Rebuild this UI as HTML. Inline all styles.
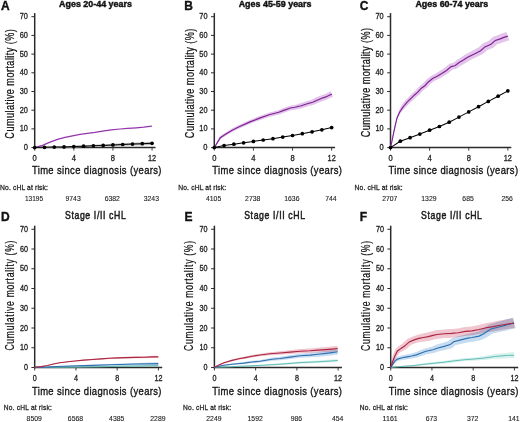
<!DOCTYPE html>
<html><head><meta charset="utf-8"><title>Cumulative mortality</title>
<style>
html,body{margin:0;padding:0;background:#fff;width:520px;height:422px;overflow:hidden}
svg{display:block;will-change:transform}
text{font-family:"Liberation Sans", sans-serif}
</style></head><body>
<svg width="520" height="422" viewBox="0 0 520 422">
<text x="1.0" y="10.1" font-size="12" font-weight="bold" text-anchor="start" fill="#111" stroke="#111" stroke-width="0.35" >A</text>
<text x="184.3" y="10.1" font-size="12" font-weight="bold" text-anchor="start" fill="#111" stroke="#111" stroke-width="0.35" >B</text>
<text x="359.8" y="10.1" font-size="12" font-weight="bold" text-anchor="start" fill="#111" stroke="#111" stroke-width="0.35" >C</text>
<text x="1.0" y="221.0" font-size="12" font-weight="bold" text-anchor="start" fill="#111" stroke="#111" stroke-width="0.35" >D</text>
<text x="184.4" y="221.0" font-size="12" font-weight="bold" text-anchor="start" fill="#111" stroke="#111" stroke-width="0.35" >E</text>
<text x="359.8" y="221.0" font-size="12" font-weight="bold" text-anchor="start" fill="#111" stroke="#111" stroke-width="0.35" >F</text>
<text x="59.1" y="7.4" font-size="8.6" font-weight="bold" text-anchor="start" fill="#111" textLength="72.8" lengthAdjust="spacingAndGlyphs" stroke="#111" stroke-width="0.4" >Ages 20-44 years</text>
<text x="238.7" y="7.4" font-size="8.6" font-weight="bold" text-anchor="start" fill="#111" textLength="72.8" lengthAdjust="spacingAndGlyphs" stroke="#111" stroke-width="0.4" >Ages 45-59 years</text>
<text x="415.4" y="7.4" font-size="8.6" font-weight="bold" text-anchor="start" fill="#111" textLength="72.8" lengthAdjust="spacingAndGlyphs" stroke="#111" stroke-width="0.4" >Ages 60-74 years</text>
<text x="0" y="0" font-size="10.9" font-weight="normal" fill="#1a1a1a" textLength="76.00" lengthAdjust="spacing" stroke="#1a1a1a" stroke-width="0.5" transform="translate(65.0,218.5) scale(0.8,1)">Stage I/II cHL</text>
<text x="0" y="0" font-size="10.9" font-weight="normal" fill="#1a1a1a" textLength="76.00" lengthAdjust="spacing" stroke="#1a1a1a" stroke-width="0.5" transform="translate(244.2,218.5) scale(0.8,1)">Stage I/II cHL</text>
<text x="0" y="0" font-size="10.9" font-weight="normal" fill="#1a1a1a" textLength="76.00" lengthAdjust="spacing" stroke="#1a1a1a" stroke-width="0.5" transform="translate(421.1,218.5) scale(0.8,1)">Stage I/II cHL</text>
<line x1="34.7" y1="13.1" x2="34.7" y2="148.4" stroke="#2b2b2b" stroke-width="1.5"/>
<line x1="33.900000000000006" y1="147.6" x2="155.5" y2="147.6" stroke="#2b2b2b" stroke-width="1.5"/>
<line x1="31.400000000000002" y1="147.60" x2="34.7" y2="147.60" stroke="#2b2b2b" stroke-width="1.0"/>
<text x="27.90" y="150.10" font-size="8.6" font-weight="normal" text-anchor="end" fill="#222" textLength="4.2" lengthAdjust="spacingAndGlyphs" stroke="#222" stroke-width="0.3" >0</text>
<line x1="31.400000000000002" y1="128.90" x2="34.7" y2="128.90" stroke="#2b2b2b" stroke-width="1.0"/>
<text x="27.90" y="131.40" font-size="8.6" font-weight="normal" text-anchor="end" fill="#222" textLength="8.2" lengthAdjust="spacingAndGlyphs" stroke="#222" stroke-width="0.3" >10</text>
<line x1="31.400000000000002" y1="110.20" x2="34.7" y2="110.20" stroke="#2b2b2b" stroke-width="1.0"/>
<text x="27.90" y="112.70" font-size="8.6" font-weight="normal" text-anchor="end" fill="#222" textLength="8.2" lengthAdjust="spacingAndGlyphs" stroke="#222" stroke-width="0.3" >20</text>
<line x1="31.400000000000002" y1="91.50" x2="34.7" y2="91.50" stroke="#2b2b2b" stroke-width="1.0"/>
<text x="27.90" y="94.00" font-size="8.6" font-weight="normal" text-anchor="end" fill="#222" textLength="8.2" lengthAdjust="spacingAndGlyphs" stroke="#222" stroke-width="0.3" >30</text>
<line x1="31.400000000000002" y1="72.80" x2="34.7" y2="72.80" stroke="#2b2b2b" stroke-width="1.0"/>
<text x="27.90" y="75.30" font-size="8.6" font-weight="normal" text-anchor="end" fill="#222" textLength="8.2" lengthAdjust="spacingAndGlyphs" stroke="#222" stroke-width="0.3" >40</text>
<line x1="31.400000000000002" y1="54.10" x2="34.7" y2="54.10" stroke="#2b2b2b" stroke-width="1.0"/>
<text x="27.90" y="56.60" font-size="8.6" font-weight="normal" text-anchor="end" fill="#222" textLength="8.2" lengthAdjust="spacingAndGlyphs" stroke="#222" stroke-width="0.3" >50</text>
<line x1="31.400000000000002" y1="35.40" x2="34.7" y2="35.40" stroke="#2b2b2b" stroke-width="1.0"/>
<text x="27.90" y="37.90" font-size="8.6" font-weight="normal" text-anchor="end" fill="#222" textLength="8.2" lengthAdjust="spacingAndGlyphs" stroke="#222" stroke-width="0.3" >60</text>
<line x1="31.400000000000002" y1="16.70" x2="34.7" y2="16.70" stroke="#2b2b2b" stroke-width="1.0"/>
<text x="27.90" y="19.20" font-size="8.6" font-weight="normal" text-anchor="end" fill="#222" textLength="8.2" lengthAdjust="spacingAndGlyphs" stroke="#222" stroke-width="0.3" >70</text>
<line x1="34.70" y1="147.6" x2="34.70" y2="150.6" stroke="#2b2b2b" stroke-width="0.9"/>
<text x="34.70" y="160.80" font-size="8.6" font-weight="normal" text-anchor="middle" fill="#222" textLength="4.2" lengthAdjust="spacingAndGlyphs" stroke="#222" stroke-width="0.3" >0</text>
<line x1="73.82" y1="147.6" x2="73.82" y2="150.6" stroke="#2b2b2b" stroke-width="0.9"/>
<text x="73.82" y="160.80" font-size="8.6" font-weight="normal" text-anchor="middle" fill="#222" textLength="4.2" lengthAdjust="spacingAndGlyphs" stroke="#222" stroke-width="0.3" >4</text>
<line x1="112.94" y1="147.6" x2="112.94" y2="150.6" stroke="#2b2b2b" stroke-width="0.9"/>
<text x="112.94" y="160.80" font-size="8.6" font-weight="normal" text-anchor="middle" fill="#222" textLength="4.2" lengthAdjust="spacingAndGlyphs" stroke="#222" stroke-width="0.3" >8</text>
<line x1="152.06" y1="147.6" x2="152.06" y2="150.6" stroke="#2b2b2b" stroke-width="0.9"/>
<text x="152.06" y="160.80" font-size="8.6" font-weight="normal" text-anchor="middle" fill="#222" textLength="8.2" lengthAdjust="spacingAndGlyphs" stroke="#222" stroke-width="0.3" >12</text>
<line x1="214.3" y1="13.1" x2="214.3" y2="148.4" stroke="#2b2b2b" stroke-width="1.5"/>
<line x1="213.5" y1="147.6" x2="335.1" y2="147.6" stroke="#2b2b2b" stroke-width="1.5"/>
<line x1="211.0" y1="147.60" x2="214.3" y2="147.60" stroke="#2b2b2b" stroke-width="1.0"/>
<text x="207.50" y="150.10" font-size="8.6" font-weight="normal" text-anchor="end" fill="#222" textLength="4.2" lengthAdjust="spacingAndGlyphs" stroke="#222" stroke-width="0.3" >0</text>
<line x1="211.0" y1="128.90" x2="214.3" y2="128.90" stroke="#2b2b2b" stroke-width="1.0"/>
<text x="207.50" y="131.40" font-size="8.6" font-weight="normal" text-anchor="end" fill="#222" textLength="8.2" lengthAdjust="spacingAndGlyphs" stroke="#222" stroke-width="0.3" >10</text>
<line x1="211.0" y1="110.20" x2="214.3" y2="110.20" stroke="#2b2b2b" stroke-width="1.0"/>
<text x="207.50" y="112.70" font-size="8.6" font-weight="normal" text-anchor="end" fill="#222" textLength="8.2" lengthAdjust="spacingAndGlyphs" stroke="#222" stroke-width="0.3" >20</text>
<line x1="211.0" y1="91.50" x2="214.3" y2="91.50" stroke="#2b2b2b" stroke-width="1.0"/>
<text x="207.50" y="94.00" font-size="8.6" font-weight="normal" text-anchor="end" fill="#222" textLength="8.2" lengthAdjust="spacingAndGlyphs" stroke="#222" stroke-width="0.3" >30</text>
<line x1="211.0" y1="72.80" x2="214.3" y2="72.80" stroke="#2b2b2b" stroke-width="1.0"/>
<text x="207.50" y="75.30" font-size="8.6" font-weight="normal" text-anchor="end" fill="#222" textLength="8.2" lengthAdjust="spacingAndGlyphs" stroke="#222" stroke-width="0.3" >40</text>
<line x1="211.0" y1="54.10" x2="214.3" y2="54.10" stroke="#2b2b2b" stroke-width="1.0"/>
<text x="207.50" y="56.60" font-size="8.6" font-weight="normal" text-anchor="end" fill="#222" textLength="8.2" lengthAdjust="spacingAndGlyphs" stroke="#222" stroke-width="0.3" >50</text>
<line x1="211.0" y1="35.40" x2="214.3" y2="35.40" stroke="#2b2b2b" stroke-width="1.0"/>
<text x="207.50" y="37.90" font-size="8.6" font-weight="normal" text-anchor="end" fill="#222" textLength="8.2" lengthAdjust="spacingAndGlyphs" stroke="#222" stroke-width="0.3" >60</text>
<line x1="211.0" y1="16.70" x2="214.3" y2="16.70" stroke="#2b2b2b" stroke-width="1.0"/>
<text x="207.50" y="19.20" font-size="8.6" font-weight="normal" text-anchor="end" fill="#222" textLength="8.2" lengthAdjust="spacingAndGlyphs" stroke="#222" stroke-width="0.3" >70</text>
<line x1="214.30" y1="147.6" x2="214.30" y2="150.6" stroke="#2b2b2b" stroke-width="0.9"/>
<text x="214.30" y="160.80" font-size="8.6" font-weight="normal" text-anchor="middle" fill="#222" textLength="4.2" lengthAdjust="spacingAndGlyphs" stroke="#222" stroke-width="0.3" >0</text>
<line x1="253.42" y1="147.6" x2="253.42" y2="150.6" stroke="#2b2b2b" stroke-width="0.9"/>
<text x="253.42" y="160.80" font-size="8.6" font-weight="normal" text-anchor="middle" fill="#222" textLength="4.2" lengthAdjust="spacingAndGlyphs" stroke="#222" stroke-width="0.3" >4</text>
<line x1="292.54" y1="147.6" x2="292.54" y2="150.6" stroke="#2b2b2b" stroke-width="0.9"/>
<text x="292.54" y="160.80" font-size="8.6" font-weight="normal" text-anchor="middle" fill="#222" textLength="4.2" lengthAdjust="spacingAndGlyphs" stroke="#222" stroke-width="0.3" >8</text>
<line x1="331.66" y1="147.6" x2="331.66" y2="150.6" stroke="#2b2b2b" stroke-width="0.9"/>
<text x="331.66" y="160.80" font-size="8.6" font-weight="normal" text-anchor="middle" fill="#222" textLength="8.2" lengthAdjust="spacingAndGlyphs" stroke="#222" stroke-width="0.3" >12</text>
<line x1="390.5" y1="13.1" x2="390.5" y2="148.4" stroke="#2b2b2b" stroke-width="1.5"/>
<line x1="389.7" y1="147.6" x2="511.3" y2="147.6" stroke="#2b2b2b" stroke-width="1.5"/>
<line x1="387.2" y1="147.60" x2="390.5" y2="147.60" stroke="#2b2b2b" stroke-width="1.0"/>
<text x="383.70" y="150.10" font-size="8.6" font-weight="normal" text-anchor="end" fill="#222" textLength="4.2" lengthAdjust="spacingAndGlyphs" stroke="#222" stroke-width="0.3" >0</text>
<line x1="387.2" y1="128.90" x2="390.5" y2="128.90" stroke="#2b2b2b" stroke-width="1.0"/>
<text x="383.70" y="131.40" font-size="8.6" font-weight="normal" text-anchor="end" fill="#222" textLength="8.2" lengthAdjust="spacingAndGlyphs" stroke="#222" stroke-width="0.3" >10</text>
<line x1="387.2" y1="110.20" x2="390.5" y2="110.20" stroke="#2b2b2b" stroke-width="1.0"/>
<text x="383.70" y="112.70" font-size="8.6" font-weight="normal" text-anchor="end" fill="#222" textLength="8.2" lengthAdjust="spacingAndGlyphs" stroke="#222" stroke-width="0.3" >20</text>
<line x1="387.2" y1="91.50" x2="390.5" y2="91.50" stroke="#2b2b2b" stroke-width="1.0"/>
<text x="383.70" y="94.00" font-size="8.6" font-weight="normal" text-anchor="end" fill="#222" textLength="8.2" lengthAdjust="spacingAndGlyphs" stroke="#222" stroke-width="0.3" >30</text>
<line x1="387.2" y1="72.80" x2="390.5" y2="72.80" stroke="#2b2b2b" stroke-width="1.0"/>
<text x="383.70" y="75.30" font-size="8.6" font-weight="normal" text-anchor="end" fill="#222" textLength="8.2" lengthAdjust="spacingAndGlyphs" stroke="#222" stroke-width="0.3" >40</text>
<line x1="387.2" y1="54.10" x2="390.5" y2="54.10" stroke="#2b2b2b" stroke-width="1.0"/>
<text x="383.70" y="56.60" font-size="8.6" font-weight="normal" text-anchor="end" fill="#222" textLength="8.2" lengthAdjust="spacingAndGlyphs" stroke="#222" stroke-width="0.3" >50</text>
<line x1="387.2" y1="35.40" x2="390.5" y2="35.40" stroke="#2b2b2b" stroke-width="1.0"/>
<text x="383.70" y="37.90" font-size="8.6" font-weight="normal" text-anchor="end" fill="#222" textLength="8.2" lengthAdjust="spacingAndGlyphs" stroke="#222" stroke-width="0.3" >60</text>
<line x1="387.2" y1="16.70" x2="390.5" y2="16.70" stroke="#2b2b2b" stroke-width="1.0"/>
<text x="383.70" y="19.20" font-size="8.6" font-weight="normal" text-anchor="end" fill="#222" textLength="8.2" lengthAdjust="spacingAndGlyphs" stroke="#222" stroke-width="0.3" >70</text>
<line x1="390.50" y1="147.6" x2="390.50" y2="150.6" stroke="#2b2b2b" stroke-width="0.9"/>
<text x="390.50" y="160.80" font-size="8.6" font-weight="normal" text-anchor="middle" fill="#222" textLength="4.2" lengthAdjust="spacingAndGlyphs" stroke="#222" stroke-width="0.3" >0</text>
<line x1="429.62" y1="147.6" x2="429.62" y2="150.6" stroke="#2b2b2b" stroke-width="0.9"/>
<text x="429.62" y="160.80" font-size="8.6" font-weight="normal" text-anchor="middle" fill="#222" textLength="4.2" lengthAdjust="spacingAndGlyphs" stroke="#222" stroke-width="0.3" >4</text>
<line x1="468.74" y1="147.6" x2="468.74" y2="150.6" stroke="#2b2b2b" stroke-width="0.9"/>
<text x="468.74" y="160.80" font-size="8.6" font-weight="normal" text-anchor="middle" fill="#222" textLength="4.2" lengthAdjust="spacingAndGlyphs" stroke="#222" stroke-width="0.3" >8</text>
<line x1="507.86" y1="147.6" x2="507.86" y2="150.6" stroke="#2b2b2b" stroke-width="0.9"/>
<text x="507.86" y="160.80" font-size="8.6" font-weight="normal" text-anchor="middle" fill="#222" textLength="8.2" lengthAdjust="spacingAndGlyphs" stroke="#222" stroke-width="0.3" >12</text>
<line x1="34.7" y1="225.7" x2="34.7" y2="368.3" stroke="#2b2b2b" stroke-width="1.5"/>
<line x1="33.900000000000006" y1="367.5" x2="162.2" y2="367.5" stroke="#2b2b2b" stroke-width="1.5"/>
<line x1="31.400000000000002" y1="367.50" x2="34.7" y2="367.50" stroke="#2b2b2b" stroke-width="1.0"/>
<text x="27.90" y="370.00" font-size="8.2" font-weight="normal" text-anchor="end" fill="#222" textLength="4.0" lengthAdjust="spacingAndGlyphs" stroke="#222" stroke-width="0.3" >0</text>
<line x1="31.400000000000002" y1="347.75" x2="34.7" y2="347.75" stroke="#2b2b2b" stroke-width="1.0"/>
<text x="27.90" y="350.25" font-size="8.2" font-weight="normal" text-anchor="end" fill="#222" textLength="8.0" lengthAdjust="spacingAndGlyphs" stroke="#222" stroke-width="0.3" >10</text>
<line x1="31.400000000000002" y1="328.00" x2="34.7" y2="328.00" stroke="#2b2b2b" stroke-width="1.0"/>
<text x="27.90" y="330.50" font-size="8.2" font-weight="normal" text-anchor="end" fill="#222" textLength="8.0" lengthAdjust="spacingAndGlyphs" stroke="#222" stroke-width="0.3" >20</text>
<line x1="31.400000000000002" y1="308.25" x2="34.7" y2="308.25" stroke="#2b2b2b" stroke-width="1.0"/>
<text x="27.90" y="310.75" font-size="8.2" font-weight="normal" text-anchor="end" fill="#222" textLength="8.0" lengthAdjust="spacingAndGlyphs" stroke="#222" stroke-width="0.3" >30</text>
<line x1="31.400000000000002" y1="288.50" x2="34.7" y2="288.50" stroke="#2b2b2b" stroke-width="1.0"/>
<text x="27.90" y="291.00" font-size="8.2" font-weight="normal" text-anchor="end" fill="#222" textLength="8.0" lengthAdjust="spacingAndGlyphs" stroke="#222" stroke-width="0.3" >40</text>
<line x1="31.400000000000002" y1="268.75" x2="34.7" y2="268.75" stroke="#2b2b2b" stroke-width="1.0"/>
<text x="27.90" y="271.25" font-size="8.2" font-weight="normal" text-anchor="end" fill="#222" textLength="8.0" lengthAdjust="spacingAndGlyphs" stroke="#222" stroke-width="0.3" >50</text>
<line x1="31.400000000000002" y1="249.00" x2="34.7" y2="249.00" stroke="#2b2b2b" stroke-width="1.0"/>
<text x="27.90" y="251.50" font-size="8.2" font-weight="normal" text-anchor="end" fill="#222" textLength="8.0" lengthAdjust="spacingAndGlyphs" stroke="#222" stroke-width="0.3" >60</text>
<line x1="31.400000000000002" y1="229.25" x2="34.7" y2="229.25" stroke="#2b2b2b" stroke-width="1.0"/>
<text x="27.90" y="231.75" font-size="8.2" font-weight="normal" text-anchor="end" fill="#222" textLength="8.0" lengthAdjust="spacingAndGlyphs" stroke="#222" stroke-width="0.3" >70</text>
<line x1="34.70" y1="367.5" x2="34.70" y2="370.5" stroke="#2b2b2b" stroke-width="0.9"/>
<text x="34.70" y="381.00" font-size="8.2" font-weight="normal" text-anchor="middle" fill="#222" textLength="4.0" lengthAdjust="spacingAndGlyphs" stroke="#222" stroke-width="0.3" >0</text>
<line x1="75.94" y1="367.5" x2="75.94" y2="370.5" stroke="#2b2b2b" stroke-width="0.9"/>
<text x="75.94" y="381.00" font-size="8.2" font-weight="normal" text-anchor="middle" fill="#222" textLength="4.0" lengthAdjust="spacingAndGlyphs" stroke="#222" stroke-width="0.3" >4</text>
<line x1="117.18" y1="367.5" x2="117.18" y2="370.5" stroke="#2b2b2b" stroke-width="0.9"/>
<text x="117.18" y="381.00" font-size="8.2" font-weight="normal" text-anchor="middle" fill="#222" textLength="4.0" lengthAdjust="spacingAndGlyphs" stroke="#222" stroke-width="0.3" >8</text>
<line x1="158.42" y1="367.5" x2="158.42" y2="370.5" stroke="#2b2b2b" stroke-width="0.9"/>
<text x="158.42" y="381.00" font-size="8.2" font-weight="normal" text-anchor="middle" fill="#222" textLength="8.0" lengthAdjust="spacingAndGlyphs" stroke="#222" stroke-width="0.3" >12</text>
<line x1="214.4" y1="225.7" x2="214.4" y2="368.3" stroke="#2b2b2b" stroke-width="1.5"/>
<line x1="213.6" y1="367.5" x2="341.9" y2="367.5" stroke="#2b2b2b" stroke-width="1.5"/>
<line x1="211.1" y1="367.50" x2="214.4" y2="367.50" stroke="#2b2b2b" stroke-width="1.0"/>
<text x="207.60" y="370.00" font-size="8.2" font-weight="normal" text-anchor="end" fill="#222" textLength="4.0" lengthAdjust="spacingAndGlyphs" stroke="#222" stroke-width="0.3" >0</text>
<line x1="211.1" y1="347.75" x2="214.4" y2="347.75" stroke="#2b2b2b" stroke-width="1.0"/>
<text x="207.60" y="350.25" font-size="8.2" font-weight="normal" text-anchor="end" fill="#222" textLength="8.0" lengthAdjust="spacingAndGlyphs" stroke="#222" stroke-width="0.3" >10</text>
<line x1="211.1" y1="328.00" x2="214.4" y2="328.00" stroke="#2b2b2b" stroke-width="1.0"/>
<text x="207.60" y="330.50" font-size="8.2" font-weight="normal" text-anchor="end" fill="#222" textLength="8.0" lengthAdjust="spacingAndGlyphs" stroke="#222" stroke-width="0.3" >20</text>
<line x1="211.1" y1="308.25" x2="214.4" y2="308.25" stroke="#2b2b2b" stroke-width="1.0"/>
<text x="207.60" y="310.75" font-size="8.2" font-weight="normal" text-anchor="end" fill="#222" textLength="8.0" lengthAdjust="spacingAndGlyphs" stroke="#222" stroke-width="0.3" >30</text>
<line x1="211.1" y1="288.50" x2="214.4" y2="288.50" stroke="#2b2b2b" stroke-width="1.0"/>
<text x="207.60" y="291.00" font-size="8.2" font-weight="normal" text-anchor="end" fill="#222" textLength="8.0" lengthAdjust="spacingAndGlyphs" stroke="#222" stroke-width="0.3" >40</text>
<line x1="211.1" y1="268.75" x2="214.4" y2="268.75" stroke="#2b2b2b" stroke-width="1.0"/>
<text x="207.60" y="271.25" font-size="8.2" font-weight="normal" text-anchor="end" fill="#222" textLength="8.0" lengthAdjust="spacingAndGlyphs" stroke="#222" stroke-width="0.3" >50</text>
<line x1="211.1" y1="249.00" x2="214.4" y2="249.00" stroke="#2b2b2b" stroke-width="1.0"/>
<text x="207.60" y="251.50" font-size="8.2" font-weight="normal" text-anchor="end" fill="#222" textLength="8.0" lengthAdjust="spacingAndGlyphs" stroke="#222" stroke-width="0.3" >60</text>
<line x1="211.1" y1="229.25" x2="214.4" y2="229.25" stroke="#2b2b2b" stroke-width="1.0"/>
<text x="207.60" y="231.75" font-size="8.2" font-weight="normal" text-anchor="end" fill="#222" textLength="8.0" lengthAdjust="spacingAndGlyphs" stroke="#222" stroke-width="0.3" >70</text>
<line x1="214.40" y1="367.5" x2="214.40" y2="370.5" stroke="#2b2b2b" stroke-width="0.9"/>
<text x="214.40" y="381.00" font-size="8.2" font-weight="normal" text-anchor="middle" fill="#222" textLength="4.0" lengthAdjust="spacingAndGlyphs" stroke="#222" stroke-width="0.3" >0</text>
<line x1="255.64" y1="367.5" x2="255.64" y2="370.5" stroke="#2b2b2b" stroke-width="0.9"/>
<text x="255.64" y="381.00" font-size="8.2" font-weight="normal" text-anchor="middle" fill="#222" textLength="4.0" lengthAdjust="spacingAndGlyphs" stroke="#222" stroke-width="0.3" >4</text>
<line x1="296.88" y1="367.5" x2="296.88" y2="370.5" stroke="#2b2b2b" stroke-width="0.9"/>
<text x="296.88" y="381.00" font-size="8.2" font-weight="normal" text-anchor="middle" fill="#222" textLength="4.0" lengthAdjust="spacingAndGlyphs" stroke="#222" stroke-width="0.3" >8</text>
<line x1="338.12" y1="367.5" x2="338.12" y2="370.5" stroke="#2b2b2b" stroke-width="0.9"/>
<text x="338.12" y="381.00" font-size="8.2" font-weight="normal" text-anchor="middle" fill="#222" textLength="8.0" lengthAdjust="spacingAndGlyphs" stroke="#222" stroke-width="0.3" >12</text>
<line x1="390.7" y1="225.7" x2="390.7" y2="368.3" stroke="#2b2b2b" stroke-width="1.5"/>
<line x1="389.9" y1="367.5" x2="518.2" y2="367.5" stroke="#2b2b2b" stroke-width="1.5"/>
<line x1="387.4" y1="367.50" x2="390.7" y2="367.50" stroke="#2b2b2b" stroke-width="1.0"/>
<text x="383.90" y="370.00" font-size="8.2" font-weight="normal" text-anchor="end" fill="#222" textLength="4.0" lengthAdjust="spacingAndGlyphs" stroke="#222" stroke-width="0.3" >0</text>
<line x1="387.4" y1="347.75" x2="390.7" y2="347.75" stroke="#2b2b2b" stroke-width="1.0"/>
<text x="383.90" y="350.25" font-size="8.2" font-weight="normal" text-anchor="end" fill="#222" textLength="8.0" lengthAdjust="spacingAndGlyphs" stroke="#222" stroke-width="0.3" >10</text>
<line x1="387.4" y1="328.00" x2="390.7" y2="328.00" stroke="#2b2b2b" stroke-width="1.0"/>
<text x="383.90" y="330.50" font-size="8.2" font-weight="normal" text-anchor="end" fill="#222" textLength="8.0" lengthAdjust="spacingAndGlyphs" stroke="#222" stroke-width="0.3" >20</text>
<line x1="387.4" y1="308.25" x2="390.7" y2="308.25" stroke="#2b2b2b" stroke-width="1.0"/>
<text x="383.90" y="310.75" font-size="8.2" font-weight="normal" text-anchor="end" fill="#222" textLength="8.0" lengthAdjust="spacingAndGlyphs" stroke="#222" stroke-width="0.3" >30</text>
<line x1="387.4" y1="288.50" x2="390.7" y2="288.50" stroke="#2b2b2b" stroke-width="1.0"/>
<text x="383.90" y="291.00" font-size="8.2" font-weight="normal" text-anchor="end" fill="#222" textLength="8.0" lengthAdjust="spacingAndGlyphs" stroke="#222" stroke-width="0.3" >40</text>
<line x1="387.4" y1="268.75" x2="390.7" y2="268.75" stroke="#2b2b2b" stroke-width="1.0"/>
<text x="383.90" y="271.25" font-size="8.2" font-weight="normal" text-anchor="end" fill="#222" textLength="8.0" lengthAdjust="spacingAndGlyphs" stroke="#222" stroke-width="0.3" >50</text>
<line x1="387.4" y1="249.00" x2="390.7" y2="249.00" stroke="#2b2b2b" stroke-width="1.0"/>
<text x="383.90" y="251.50" font-size="8.2" font-weight="normal" text-anchor="end" fill="#222" textLength="8.0" lengthAdjust="spacingAndGlyphs" stroke="#222" stroke-width="0.3" >60</text>
<line x1="387.4" y1="229.25" x2="390.7" y2="229.25" stroke="#2b2b2b" stroke-width="1.0"/>
<text x="383.90" y="231.75" font-size="8.2" font-weight="normal" text-anchor="end" fill="#222" textLength="8.0" lengthAdjust="spacingAndGlyphs" stroke="#222" stroke-width="0.3" >70</text>
<line x1="390.70" y1="367.5" x2="390.70" y2="370.5" stroke="#2b2b2b" stroke-width="0.9"/>
<text x="390.70" y="381.00" font-size="8.2" font-weight="normal" text-anchor="middle" fill="#222" textLength="4.0" lengthAdjust="spacingAndGlyphs" stroke="#222" stroke-width="0.3" >0</text>
<line x1="431.94" y1="367.5" x2="431.94" y2="370.5" stroke="#2b2b2b" stroke-width="0.9"/>
<text x="431.94" y="381.00" font-size="8.2" font-weight="normal" text-anchor="middle" fill="#222" textLength="4.0" lengthAdjust="spacingAndGlyphs" stroke="#222" stroke-width="0.3" >4</text>
<line x1="473.18" y1="367.5" x2="473.18" y2="370.5" stroke="#2b2b2b" stroke-width="0.9"/>
<text x="473.18" y="381.00" font-size="8.2" font-weight="normal" text-anchor="middle" fill="#222" textLength="4.0" lengthAdjust="spacingAndGlyphs" stroke="#222" stroke-width="0.3" >8</text>
<line x1="514.42" y1="367.5" x2="514.42" y2="370.5" stroke="#2b2b2b" stroke-width="0.9"/>
<text x="514.42" y="381.00" font-size="8.2" font-weight="normal" text-anchor="middle" fill="#222" textLength="8.0" lengthAdjust="spacingAndGlyphs" stroke="#222" stroke-width="0.3" >12</text>
<text x="0" y="0" font-size="11.8" font-weight="normal" fill="#111" textLength="162.00" lengthAdjust="spacing" stroke="#111" stroke-width="0.35" transform="translate(31.9,173.7) scale(0.8,1)">Time since diagnosis (years)</text>
<text x="0" y="0" font-size="11.8" font-weight="normal" fill="#111" textLength="162.00" lengthAdjust="spacing" stroke="#111" stroke-width="0.35" transform="translate(212.3,173.7) scale(0.8,1)">Time since diagnosis (years)</text>
<text x="0" y="0" font-size="11.8" font-weight="normal" fill="#111" textLength="162.00" lengthAdjust="spacing" stroke="#111" stroke-width="0.35" transform="translate(388.5,173.7) scale(0.8,1)">Time since diagnosis (years)</text>
<text x="0" y="0" font-size="11.8" font-weight="normal" fill="#111" textLength="162.00" lengthAdjust="spacing" stroke="#111" stroke-width="0.35" transform="translate(31.9,394.8) scale(0.8,1)">Time since diagnosis (years)</text>
<text x="0" y="0" font-size="11.8" font-weight="normal" fill="#111" textLength="162.00" lengthAdjust="spacing" stroke="#111" stroke-width="0.35" transform="translate(212.3,394.8) scale(0.8,1)">Time since diagnosis (years)</text>
<text x="0" y="0" font-size="11.8" font-weight="normal" fill="#111" textLength="162.00" lengthAdjust="spacing" stroke="#111" stroke-width="0.35" transform="translate(388.8,394.8) scale(0.8,1)">Time since diagnosis (years)</text>
<text x="0" y="0" font-size="12.3" text-anchor="middle" fill="#111" stroke="#111" stroke-width="0.22" textLength="147.97" lengthAdjust="spacing" transform="translate(14.3,83.9) rotate(-90) scale(0.74,1)">Cumulative mortality (%)</text>
<text x="0" y="0" font-size="12.3" text-anchor="middle" fill="#111" stroke="#111" stroke-width="0.22" textLength="147.97" lengthAdjust="spacing" transform="translate(194.3,83.4) rotate(-90) scale(0.74,1)">Cumulative mortality (%)</text>
<text x="0" y="0" font-size="12.3" text-anchor="middle" fill="#111" stroke="#111" stroke-width="0.22" textLength="147.97" lengthAdjust="spacing" transform="translate(370.3,82.6) rotate(-90) scale(0.74,1)">Cumulative mortality (%)</text>
<text x="0" y="0" font-size="12.0" text-anchor="middle" fill="#111" stroke="#111" stroke-width="0.2" textLength="152.78" lengthAdjust="spacing" transform="translate(14.2,295.6) rotate(-90) scale(0.72,1)">Cumulative mortality (%)</text>
<text x="0" y="0" font-size="12.0" text-anchor="middle" fill="#111" stroke="#111" stroke-width="0.2" textLength="152.78" lengthAdjust="spacing" transform="translate(193.0,295.9) rotate(-90) scale(0.72,1)">Cumulative mortality (%)</text>
<text x="0" y="0" font-size="12.0" text-anchor="middle" fill="#111" stroke="#111" stroke-width="0.2" textLength="152.78" lengthAdjust="spacing" transform="translate(370.0,295.9) rotate(-90) scale(0.72,1)">Cumulative mortality (%)</text>
<text x="0" y="0" font-size="7.0" font-weight="normal" fill="#222" textLength="50.00" lengthAdjust="spacing" stroke="#222" stroke-width="0.25" transform="translate(0.0,189.9) scale(0.96,1)">No. cHL at risk:</text>
<text x="0" y="0" font-size="7.0" font-weight="normal" fill="#222" textLength="50.00" lengthAdjust="spacing" stroke="#222" stroke-width="0.25" transform="translate(178.2,189.9) scale(0.96,1)">No. cHL at risk:</text>
<text x="0" y="0" font-size="7.0" font-weight="normal" fill="#222" textLength="50.00" lengthAdjust="spacing" stroke="#222" stroke-width="0.25" transform="translate(354.6,189.9) scale(0.96,1)">No. cHL at risk:</text>
<text x="0" y="0" font-size="6.9" font-weight="normal" fill="#222" textLength="50.00" lengthAdjust="spacing" stroke="#222" stroke-width="0.25" transform="translate(3.8,409.9) scale(0.96,1)">No. cHL at risk:</text>
<text x="0" y="0" font-size="6.9" font-weight="normal" fill="#222" textLength="50.00" lengthAdjust="spacing" stroke="#222" stroke-width="0.25" transform="translate(183.1,409.9) scale(0.96,1)">No. cHL at risk:</text>
<text x="0" y="0" font-size="6.9" font-weight="normal" fill="#222" textLength="50.00" lengthAdjust="spacing" stroke="#222" stroke-width="0.25" transform="translate(359.8,409.9) scale(0.96,1)">No. cHL at risk:</text>
<text x="34.00" y="200.6" font-size="7.5" font-weight="normal" text-anchor="middle" fill="#222" textLength="18.2" lengthAdjust="spacingAndGlyphs" stroke="#222" stroke-width="0.12" >13195</text>
<text x="73.12" y="200.6" font-size="7.5" font-weight="normal" text-anchor="middle" fill="#222" textLength="15.2" lengthAdjust="spacingAndGlyphs" stroke="#222" stroke-width="0.12" >9743</text>
<text x="112.24" y="200.6" font-size="7.5" font-weight="normal" text-anchor="middle" fill="#222" textLength="15.2" lengthAdjust="spacingAndGlyphs" stroke="#222" stroke-width="0.12" >6382</text>
<text x="151.36" y="200.6" font-size="7.5" font-weight="normal" text-anchor="middle" fill="#222" textLength="15.2" lengthAdjust="spacingAndGlyphs" stroke="#222" stroke-width="0.12" >3243</text>
<text x="213.60" y="200.6" font-size="7.5" font-weight="normal" text-anchor="middle" fill="#222" textLength="15.2" lengthAdjust="spacingAndGlyphs" stroke="#222" stroke-width="0.12" >4105</text>
<text x="252.72" y="200.6" font-size="7.5" font-weight="normal" text-anchor="middle" fill="#222" textLength="15.2" lengthAdjust="spacingAndGlyphs" stroke="#222" stroke-width="0.12" >2738</text>
<text x="291.84" y="200.6" font-size="7.5" font-weight="normal" text-anchor="middle" fill="#222" textLength="15.2" lengthAdjust="spacingAndGlyphs" stroke="#222" stroke-width="0.12" >1636</text>
<text x="330.96" y="200.6" font-size="7.5" font-weight="normal" text-anchor="middle" fill="#222" textLength="11.4" lengthAdjust="spacingAndGlyphs" stroke="#222" stroke-width="0.12" >744</text>
<text x="389.80" y="200.6" font-size="7.5" font-weight="normal" text-anchor="middle" fill="#222" textLength="15.2" lengthAdjust="spacingAndGlyphs" stroke="#222" stroke-width="0.12" >2707</text>
<text x="428.92" y="200.6" font-size="7.5" font-weight="normal" text-anchor="middle" fill="#222" textLength="15.2" lengthAdjust="spacingAndGlyphs" stroke="#222" stroke-width="0.12" >1329</text>
<text x="468.04" y="200.6" font-size="7.5" font-weight="normal" text-anchor="middle" fill="#222" textLength="11.4" lengthAdjust="spacingAndGlyphs" stroke="#222" stroke-width="0.12" >685</text>
<text x="507.16" y="200.6" font-size="7.5" font-weight="normal" text-anchor="middle" fill="#222" textLength="11.4" lengthAdjust="spacingAndGlyphs" stroke="#222" stroke-width="0.12" >256</text>
<text x="34.20" y="420.8" font-size="7.5" font-weight="normal" text-anchor="middle" fill="#222" textLength="15.2" lengthAdjust="spacingAndGlyphs" stroke="#222" stroke-width="0.12" >8509</text>
<text x="75.44" y="420.8" font-size="7.5" font-weight="normal" text-anchor="middle" fill="#222" textLength="15.2" lengthAdjust="spacingAndGlyphs" stroke="#222" stroke-width="0.12" >6568</text>
<text x="116.68" y="420.8" font-size="7.5" font-weight="normal" text-anchor="middle" fill="#222" textLength="15.2" lengthAdjust="spacingAndGlyphs" stroke="#222" stroke-width="0.12" >4385</text>
<text x="157.92" y="420.8" font-size="7.5" font-weight="normal" text-anchor="middle" fill="#222" textLength="15.2" lengthAdjust="spacingAndGlyphs" stroke="#222" stroke-width="0.12" >2289</text>
<text x="213.90" y="420.8" font-size="7.5" font-weight="normal" text-anchor="middle" fill="#222" textLength="15.2" lengthAdjust="spacingAndGlyphs" stroke="#222" stroke-width="0.12" >2249</text>
<text x="255.14" y="420.8" font-size="7.5" font-weight="normal" text-anchor="middle" fill="#222" textLength="15.2" lengthAdjust="spacingAndGlyphs" stroke="#222" stroke-width="0.12" >1592</text>
<text x="296.38" y="420.8" font-size="7.5" font-weight="normal" text-anchor="middle" fill="#222" textLength="11.4" lengthAdjust="spacingAndGlyphs" stroke="#222" stroke-width="0.12" >986</text>
<text x="337.62" y="420.8" font-size="7.5" font-weight="normal" text-anchor="middle" fill="#222" textLength="11.4" lengthAdjust="spacingAndGlyphs" stroke="#222" stroke-width="0.12" >454</text>
<text x="390.20" y="420.8" font-size="7.5" font-weight="normal" text-anchor="middle" fill="#222" textLength="15.2" lengthAdjust="spacingAndGlyphs" stroke="#222" stroke-width="0.12" >1161</text>
<text x="431.44" y="420.8" font-size="7.5" font-weight="normal" text-anchor="middle" fill="#222" textLength="11.4" lengthAdjust="spacingAndGlyphs" stroke="#222" stroke-width="0.12" >673</text>
<text x="472.68" y="420.8" font-size="7.5" font-weight="normal" text-anchor="middle" fill="#222" textLength="11.4" lengthAdjust="spacingAndGlyphs" stroke="#222" stroke-width="0.12" >372</text>
<text x="513.92" y="420.8" font-size="7.5" font-weight="normal" text-anchor="middle" fill="#222" textLength="11.4" lengthAdjust="spacingAndGlyphs" stroke="#222" stroke-width="0.12" >141</text>
<path d="M34.70,147.60 L42.50,145.30 L50.00,142.15 L57.50,139.40 L65.00,137.40 L72.50,135.90 L80.00,134.40 L87.50,133.40 L95.00,132.40 L102.50,131.15 L111.25,129.90 L120.00,129.00 L127.50,128.40 L136.25,127.80 L143.75,127.15 L151.90,126.15" fill="none" stroke="#9434ac" stroke-width="1.25"/>
<path d="M34.69,147.20 L44.47,146.80 L54.25,146.50 L64.02,146.20 L73.79,145.80 L83.56,145.30 L93.34,144.80 L103.11,144.30 L112.88,143.70 L122.67,143.20 L132.44,142.70 L142.22,142.20 L151.99,141.70 L152.13,144.90 L142.34,145.20 L132.56,145.50 L122.77,145.80 L113.00,146.10 L103.21,146.50 L93.42,146.80 L83.64,147.10 L73.85,147.40 L64.06,147.60 L54.27,147.70 L44.49,147.80 L34.71,148.00 Z" fill="#bdbdbd"/>
<path d="M34.70,147.60 L44.48,147.30 L54.26,147.10 L64.04,146.90 L73.82,146.60 L83.60,146.20 L93.38,145.80 L103.16,145.40 L112.94,144.90 L122.72,144.50 L132.50,144.10 L142.28,143.70 L152.06,143.30" fill="none" stroke="#000" stroke-width="1.05"/>
<circle cx="34.70" cy="147.60" r="1.85" fill="#000"/>
<circle cx="44.48" cy="147.30" r="1.85" fill="#000"/>
<circle cx="54.26" cy="147.10" r="1.85" fill="#000"/>
<circle cx="64.04" cy="146.90" r="1.85" fill="#000"/>
<circle cx="73.82" cy="146.60" r="1.85" fill="#000"/>
<circle cx="83.60" cy="146.20" r="1.85" fill="#000"/>
<circle cx="93.38" cy="145.80" r="1.85" fill="#000"/>
<circle cx="103.16" cy="145.40" r="1.85" fill="#000"/>
<circle cx="112.94" cy="144.90" r="1.85" fill="#000"/>
<circle cx="122.72" cy="144.50" r="1.85" fill="#000"/>
<circle cx="132.50" cy="144.10" r="1.85" fill="#000"/>
<circle cx="142.28" cy="143.70" r="1.85" fill="#000"/>
<circle cx="152.06" cy="143.30" r="1.85" fill="#000"/>
<path d="M214.30,147.60 L219.24,136.80 L225.12,132.66 L231.46,128.82 L237.90,125.60 L249.28,120.23 L258.91,116.27 L268.59,112.69 L278.16,110.16 L282.90,108.24 L289.76,105.68 L294.51,104.88 L300.50,103.34 L306.53,101.26 L311.75,99.74 L315.36,97.86 L320.20,95.83 L324.70,94.19 L329.59,91.86 L330.87,91.37 L332.93,97.03 L332.01,97.34 L326.90,99.61 L322.20,101.17 L317.64,102.94 L313.65,104.86 L308.07,106.34 L301.90,108.26 L295.49,109.72 L291.04,110.32 L284.50,112.56 L279.44,114.44 L269.81,116.71 L260.29,119.93 L250.72,123.57 L239.30,128.60 L232.94,131.58 L226.68,135.14 L221.36,138.60 L214.30,147.60 Z" fill="#e3c4eb"/>
<path d="M214.30,147.60 L220.30,137.70 L225.90,133.90 L232.20,130.20 L238.60,127.10 L250.00,121.90 L259.60,118.10 L269.20,114.70 L278.80,112.30 L283.70,110.40 L290.40,108.00 L295.00,107.30 L301.20,105.80 L307.30,103.80 L312.70,102.30 L316.50,100.40 L321.20,98.50 L325.80,96.90 L330.80,94.60 L331.90,94.20" fill="none" stroke="#7e2093" stroke-width="1.15"/>
<path d="M214.30,147.50 L224.08,145.60 L233.86,144.20 L243.64,142.80 L253.42,141.40 L263.20,140.00 L272.98,138.70 L282.76,137.10 L292.54,135.50 L302.32,133.70 L312.10,131.80 L321.88,129.80 L331.66,127.60" fill="none" stroke="#000" stroke-width="1.05"/>
<circle cx="214.30" cy="147.50" r="1.85" fill="#000"/>
<circle cx="224.08" cy="145.60" r="1.85" fill="#000"/>
<circle cx="233.86" cy="144.20" r="1.85" fill="#000"/>
<circle cx="243.64" cy="142.80" r="1.85" fill="#000"/>
<circle cx="253.42" cy="141.40" r="1.85" fill="#000"/>
<circle cx="263.20" cy="140.00" r="1.85" fill="#000"/>
<circle cx="272.98" cy="138.70" r="1.85" fill="#000"/>
<circle cx="282.76" cy="137.10" r="1.85" fill="#000"/>
<circle cx="292.54" cy="135.50" r="1.85" fill="#000"/>
<circle cx="302.32" cy="133.70" r="1.85" fill="#000"/>
<circle cx="312.10" cy="131.80" r="1.85" fill="#000"/>
<circle cx="321.88" cy="129.80" r="1.85" fill="#000"/>
<circle cx="331.66" cy="127.60" r="1.85" fill="#000"/>
<path d="M390.21,147.52 L391.78,139.91 L393.25,132.51 L394.82,125.09 L396.58,117.63 L398.52,111.62 L400.79,106.75 L403.19,102.93 L405.29,100.46 L408.89,96.86 L412.41,93.25 L415.90,90.27 L419.42,86.15 L423.00,83.58 L426.02,80.08 L430.97,75.99 L435.73,73.50 L440.15,70.80 L444.56,67.89 L449.47,63.69 L453.39,62.74 L456.86,59.91 L461.52,57.06 L465.32,54.48 L468.51,52.71 L473.70,50.00 L478.40,47.59 L482.79,43.53 L488.83,40.83 L493.14,36.83 L498.20,35.09 L502.41,33.33 L506.41,31.92 L509.19,40.28 L505.39,41.47 L501.00,43.11 L497.46,43.97 L493.17,47.77 L487.01,50.27 L482.80,54.01 L477.10,56.80 L471.89,59.29 L469.08,60.72 L465.28,63.14 L460.74,65.69 L456.41,68.86 L452.73,69.51 L448.44,73.11 L443.45,76.20 L438.67,78.90 L434.23,81.01 L429.98,84.32 L426.80,87.82 L423.18,90.25 L419.70,94.13 L415.99,97.15 L412.51,100.54 L408.91,103.94 L407.01,106.07 L404.01,109.05 L400.68,112.78 L397.62,117.97 L395.78,125.31 L394.15,132.69 L392.62,140.09 L390.99,147.68 Z" fill="#e3c4eb"/>
<path d="M390.60,147.60 L392.20,140.00 L393.70,132.60 L395.30,125.20 L397.10,117.80 L399.60,112.20 L402.40,107.90 L405.10,104.50 L407.10,102.20 L410.70,98.70 L414.20,95.20 L417.80,92.20 L421.30,88.20 L424.90,85.70 L428.00,82.20 L432.60,78.50 L437.20,76.20 L441.80,73.50 L446.50,70.50 L451.10,66.60 L454.90,65.80 L458.80,62.80 L463.40,60.10 L467.20,57.60 L470.20,56.00 L475.40,53.40 L480.60,50.80 L484.90,46.90 L491.00,44.30 L495.30,40.40 L499.60,39.10 L503.90,37.40 L507.80,36.10" fill="none" stroke="#7e2093" stroke-width="1.15"/>
<path d="M390.50,147.60 L400.28,141.20 L410.06,137.70 L419.84,134.10 L429.62,130.20 L439.40,126.50 L449.18,122.20 L458.96,117.10 L468.74,111.90 L478.52,106.70 L488.30,101.40 L498.08,96.20 L507.86,90.90" fill="none" stroke="#000" stroke-width="1.05"/>
<circle cx="390.50" cy="147.60" r="1.85" fill="#000"/>
<circle cx="400.28" cy="141.20" r="1.85" fill="#000"/>
<circle cx="410.06" cy="137.70" r="1.85" fill="#000"/>
<circle cx="419.84" cy="134.10" r="1.85" fill="#000"/>
<circle cx="429.62" cy="130.20" r="1.85" fill="#000"/>
<circle cx="439.40" cy="126.50" r="1.85" fill="#000"/>
<circle cx="449.18" cy="122.20" r="1.85" fill="#000"/>
<circle cx="458.96" cy="117.10" r="1.85" fill="#000"/>
<circle cx="468.74" cy="111.90" r="1.85" fill="#000"/>
<circle cx="478.52" cy="106.70" r="1.85" fill="#000"/>
<circle cx="488.30" cy="101.40" r="1.85" fill="#000"/>
<circle cx="498.08" cy="96.20" r="1.85" fill="#000"/>
<circle cx="507.86" cy="90.90" r="1.85" fill="#000"/>
<path d="M34.80,367.10 L74.99,366.58 L99.98,365.97 L117.98,365.33 L158.28,364.30 L158.32,366.90 L118.02,367.27 L100.02,367.63 L75.01,367.82 L34.80,367.70 Z" fill="#d6f1ee" style="mix-blend-mode:multiply"/>
<path d="M34.79,367.10 L47.38,366.70 L56.57,366.02 L63.98,365.66 L76.98,365.16 L92.28,364.64 L109.57,363.90 L119.97,363.51 L135.27,362.89 L158.28,362.30 L158.32,364.90 L135.33,365.11 L120.03,365.49 L109.63,365.70 L92.32,366.16 L77.02,366.44 L64.02,366.74 L56.63,366.98 L47.42,367.50 L34.81,367.70 Z" fill="#c6dcf0" style="mix-blend-mode:multiply"/>
<path d="M34.76,367.10 L41.15,366.26 L47.32,365.13 L53.41,363.59 L59.62,362.35 L63.94,361.71 L69.94,360.98 L74.94,360.44 L83.65,359.49 L92.25,358.83 L100.95,358.17 L109.55,357.52 L117.97,357.06 L126.67,356.71 L135.28,356.45 L143.97,356.20 L152.58,355.84 L158.30,355.80 L158.30,358.00 L152.62,357.96 L144.03,358.20 L135.32,358.35 L126.73,358.49 L118.03,358.74 L109.65,359.08 L101.05,359.63 L92.35,360.17 L83.75,360.71 L75.06,361.56 L70.06,362.02 L64.06,362.69 L59.78,363.25 L53.59,364.41 L47.48,365.87 L41.25,366.94 L34.84,367.70 Z" fill="#f0c6d0" style="mix-blend-mode:multiply"/>
<path d="M34.80,367.40 L75.00,367.20 L100.00,366.80 L118.00,366.30 L158.30,365.60" fill="none" stroke="#62bdb4" stroke-width="1.0"/>
<path d="M34.80,367.40 L47.40,367.10 L56.60,366.50 L64.00,366.20 L77.00,365.80 L92.30,365.40 L109.60,364.80 L120.00,364.50 L135.30,364.00 L158.30,363.60" fill="none" stroke="#2f70b2" stroke-width="1.15"/>
<path d="M34.80,367.40 L41.20,366.60 L47.40,365.50 L53.50,364.00 L59.70,362.80 L64.00,362.20 L70.00,361.50 L75.00,361.00 L83.70,360.10 L92.30,359.50 L101.00,358.90 L109.60,358.30 L118.00,357.90 L126.70,357.60 L135.30,357.40 L144.00,357.20 L152.60,356.90 L158.30,356.90" fill="none" stroke="#ab2440" stroke-width="1.15"/>
<path d="M214.39,366.90 L229.98,366.35 L243.97,365.51 L259.96,364.66 L279.93,363.26 L299.93,361.47 L317.93,360.49 L337.60,359.00 L337.80,362.00 L318.07,363.11 L300.07,363.73 L280.07,365.14 L260.04,366.14 L244.03,366.69 L230.02,367.25 L214.41,367.50 Z" fill="#d6f1ee" style="mix-blend-mode:multiply"/>
<path d="M214.30,366.71 L219.88,365.41 L223.91,364.54 L231.91,363.49 L239.90,362.55 L243.87,362.08 L251.87,360.84 L259.82,360.00 L271.79,357.79 L279.80,356.84 L289.75,355.27 L299.80,353.78 L309.82,352.90 L317.75,351.96 L325.70,350.92 L331.65,350.02 L337.32,349.12 L338.08,354.48 L332.35,355.18 L326.30,355.88 L318.25,356.64 L310.18,357.30 L300.20,357.82 L290.25,358.93 L280.20,360.16 L272.21,360.81 L260.18,362.60 L252.13,363.16 L244.13,364.12 L240.10,364.45 L232.09,365.11 L224.09,365.86 L220.12,366.59 L214.50,367.69 Z" fill="#c6dcf0" style="mix-blend-mode:multiply"/>
<path d="M214.19,366.75 L219.75,364.05 L223.78,362.16 L231.79,359.60 L239.80,357.54 L243.80,356.87 L251.79,355.02 L259.82,353.66 L269.85,352.27 L279.85,351.28 L289.83,350.20 L299.85,349.11 L309.86,348.42 L317.83,347.67 L325.82,347.02 L331.75,346.41 L337.41,345.71 L337.99,351.29 L332.25,351.79 L326.18,352.18 L318.17,352.53 L310.14,352.98 L300.15,353.29 L290.17,354.00 L280.15,354.72 L270.15,355.33 L260.18,356.34 L252.21,357.38 L244.20,358.93 L240.20,359.46 L232.21,361.20 L224.22,363.44 L220.25,365.15 L214.61,367.65 Z" fill="#f0c6d0" style="mix-blend-mode:multiply"/>
<path d="M214.40,367.20 L230.00,366.80 L244.00,366.10 L260.00,365.40 L280.00,364.20 L300.00,362.60 L318.00,361.80 L337.70,360.50" fill="none" stroke="#62bdb4" stroke-width="1.0"/>
<path d="M214.40,367.20 L220.00,366.00 L224.00,365.20 L232.00,364.30 L240.00,363.50 L244.00,363.10 L252.00,362.00 L260.00,361.30 L272.00,359.30 L280.00,358.50 L290.00,357.10 L300.00,355.80 L310.00,355.10 L318.00,354.30 L326.00,353.40 L332.00,352.60 L337.70,351.80" fill="none" stroke="#2f70b2" stroke-width="1.15"/>
<path d="M214.40,367.20 L220.00,364.60 L224.00,362.80 L232.00,360.40 L240.00,358.50 L244.00,357.90 L252.00,356.20 L260.00,355.00 L270.00,353.80 L280.00,353.00 L290.00,352.10 L300.00,351.20 L310.00,350.70 L318.00,350.10 L326.00,349.60 L332.00,349.10 L337.70,348.50" fill="none" stroke="#ab2440" stroke-width="1.15"/>
<path d="M390.67,367.10 L399.76,366.09 L404.55,365.58 L414.12,364.67 L423.68,363.25 L433.37,362.08 L444.84,360.78 L453.53,359.50 L465.36,358.09 L471.87,357.63 L483.58,356.20 L495.43,354.07 L507.34,352.64 L514.05,352.30 L514.15,358.30 L507.66,358.16 L495.97,358.73 L484.02,360.00 L472.13,360.77 L465.64,361.11 L453.87,362.30 L445.16,363.42 L433.63,364.52 L423.92,365.35 L414.28,366.33 L404.65,366.82 L399.84,367.11 L390.73,367.70 Z" fill="#d6f1ee" style="mix-blend-mode:multiply"/>
<path d="M390.28,367.12 L391.88,363.84 L393.93,359.84 L396.73,357.34 L401.68,355.55 L406.54,354.50 L411.16,353.47 L415.58,352.31 L420.19,350.33 L425.12,348.41 L432.15,346.72 L436.07,344.80 L443.17,342.68 L448.36,341.07 L452.10,338.05 L459.80,335.95 L467.03,334.02 L471.25,333.31 L477.73,331.85 L481.49,329.71 L484.82,327.35 L489.28,324.50 L496.86,322.33 L503.81,320.35 L512.56,317.52 L515.64,328.08 L506.59,330.45 L499.34,332.07 L492.72,333.50 L489.98,335.25 L486.11,337.69 L480.47,340.35 L472.75,341.69 L468.77,342.18 L461.80,343.85 L455.30,345.35 L451.84,348.13 L445.23,350.12 L438.13,351.60 L433.85,352.88 L426.68,354.19 L422.21,355.67 L417.22,357.49 L412.24,358.53 L407.46,359.30 L402.72,360.05 L398.27,360.86 L396.27,361.96 L393.52,364.96 L391.12,367.68 Z" fill="#c6dcf0" style="mix-blend-mode:multiply"/>
<path d="M390.23,367.24 L391.52,361.06 L393.14,354.60 L395.42,349.27 L399.20,345.79 L402.51,343.44 L407.37,338.94 L412.82,336.44 L417.85,334.68 L422.76,333.58 L427.41,332.55 L432.02,331.30 L436.46,330.32 L443.87,329.45 L451.03,329.11 L457.80,328.52 L464.90,327.08 L471.39,326.56 L478.15,325.14 L485.29,323.32 L492.46,322.00 L499.54,320.49 L506.83,319.15 L513.57,318.33 L514.63,328.27 L508.17,328.85 L501.26,329.91 L494.14,331.20 L487.11,332.28 L480.05,333.86 L472.61,335.24 L466.10,335.72 L459.00,337.08 L451.57,337.69 L444.53,337.95 L437.74,338.68 L433.98,339.50 L429.19,340.65 L424.24,341.42 L419.75,342.12 L415.38,343.36 L411.23,344.86 L406.69,348.76 L402.80,351.01 L399.58,352.73 L397.06,356.40 L393.88,361.94 L391.17,367.56 Z" fill="#f0c6d0" style="mix-blend-mode:multiply"/>
<path d="M390.70,367.40 L399.80,366.60 L404.60,366.20 L414.20,365.50 L423.80,364.30 L433.50,363.30 L445.00,362.10 L453.70,360.90 L465.50,359.60 L472.00,359.20 L483.80,358.10 L495.70,356.40 L507.50,355.40 L514.10,355.30" fill="none" stroke="#62bdb4" stroke-width="1.0"/>
<path d="M390.70,367.40 L392.70,364.40 L395.10,360.90 L397.50,359.10 L402.20,357.80 L407.00,356.90 L411.70,356.00 L416.40,354.90 L421.20,353.00 L425.90,351.30 L433.00,349.80 L437.10,348.20 L444.20,346.40 L450.10,344.60 L453.70,341.70 L460.80,339.90 L467.90,338.10 L472.00,337.50 L479.10,336.10 L483.80,333.70 L487.40,331.30 L491.00,329.00 L498.10,327.20 L505.20,325.40 L514.10,322.80" fill="none" stroke="#2f70b2" stroke-width="1.15"/>
<path d="M390.70,367.40 L392.70,361.50 L395.10,355.50 L397.50,351.00 L401.00,348.40 L404.60,346.10 L409.30,341.90 L414.10,339.90 L418.80,338.40 L423.50,337.50 L428.30,336.60 L433.00,335.40 L437.10,334.50 L444.20,333.70 L451.30,333.40 L458.40,332.80 L465.50,331.40 L472.00,330.90 L479.10,329.50 L486.20,327.80 L493.30,326.60 L500.40,325.20 L507.50,324.00 L514.10,323.30" fill="none" stroke="#ab2440" stroke-width="1.15"/>
</svg>
</body></html>
